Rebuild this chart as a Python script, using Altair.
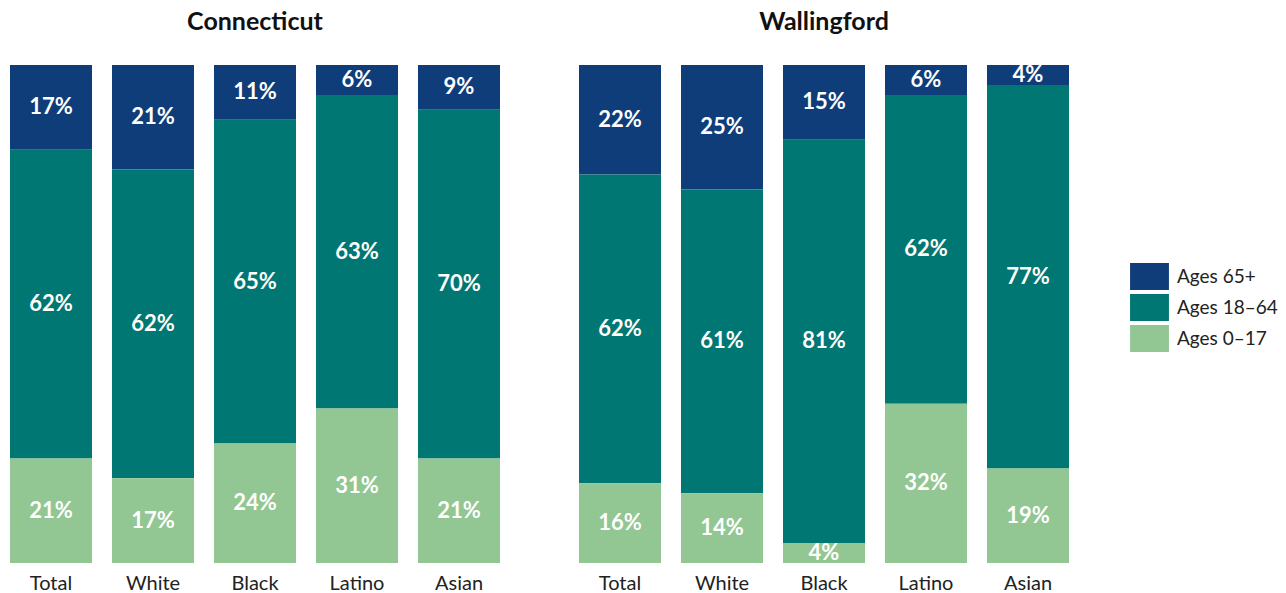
import altair as alt
import pandas as pd

regions = ["Connecticut", "Wallingford"]
races = ["Total", "White", "Black", "Latino", "Asian"]
groups = ["Ages 65+", "Ages 18–64", "Ages 0–17"]
colors = ["#0f3d7a", "#007772", "#92c693"]

ct_65 = [17, 21, 11, 6, 9]
ct_18_64 = [62, 62, 65, 63, 70]
ct_0_17 = [21, 17, 24, 31, 21]
wf_65 = [22, 25, 15, 6, 4]
wf_18_64 = [62, 61, 81, 62, 77]
wf_0_17 = [16, 14, 4, 32, 19]

series = {
    "Connecticut": {"Ages 65+": ct_65, "Ages 18–64": ct_18_64, "Ages 0–17": ct_0_17},
    "Wallingford": {"Ages 65+": wf_65, "Ages 18–64": wf_18_64, "Ages 0–17": wf_0_17},
}
stack_rank = {"Ages 0–17": 0, "Ages 18–64": 1, "Ages 65+": 2}

rows = []
for reg in regions:
    for g in groups:
        for r, v in zip(races, series[reg][g]):
            rows.append({"region": reg, "race": r, "group": g, "value": v, "ord": stack_rank[g]})
df = pd.DataFrame(rows)

FONT = "Lato"

base = alt.Chart().transform_stack(
    stack="value", as_=["y0", "y1"], groupby=["region", "race"], sort=[alt.SortField("ord")]
).transform_calculate(
    mid="(datum.y0 + datum.y1) / 2", label="datum.value + '%'"
)

xenc = alt.X(
    "race:N", sort=races, title=None,
    scale=alt.Scale(paddingInner=0.196, paddingOuter=0),
    axis=alt.Axis(labelAngle=0, ticks=False, domain=False, labelFontSize=20,
                  labelColor="#222222", labelPadding=8, labelFont=FONT),
)

bars = base.mark_bar().encode(
    x=xenc,
    y=alt.Y("y0:Q", scale=alt.Scale(domain=[0, 100]), axis=None),
    y2="y1:Q",
    color=alt.Color(
        "group:N",
        scale=alt.Scale(domain=groups, range=colors),
        legend=alt.Legend(
            title=None, orient="none", legendX=1126, legendY=198,
            symbolType="M-1.44,-1H1.44V1H-1.44Z", symbolSize=729,
            symbolStrokeWidth=0, symbolOpacity=1, labelFontSize=19,
            labelFont=FONT, labelColor="#222222", labelOffset=14, rowPadding=4,
        ),
    ),
)

text = base.mark_text(color="white", fontWeight="bold", fontSize=22, font=FONT).encode(
    x=alt.X("race:N", sort=races),
    y=alt.Y("mid:Q"),
    text="label:N",
)

chart = alt.layer(bars, text, data=df).properties(width=490, height=498).facet(
    column=alt.Column(
        "region:N", sort=regions,
        header=alt.Header(title=None, labelFontSize=25, labelFontWeight="bold",
                          labelFont=FONT, labelColor="#111111", labelPadding=28),
    ),
    spacing=79,
).properties(
    padding={"left": 2, "top": 2, "right": 0, "bottom": 0}
).configure_view(stroke=None)

chart.save("out.html", embed_options={"renderer": "svg", "actions": False})
